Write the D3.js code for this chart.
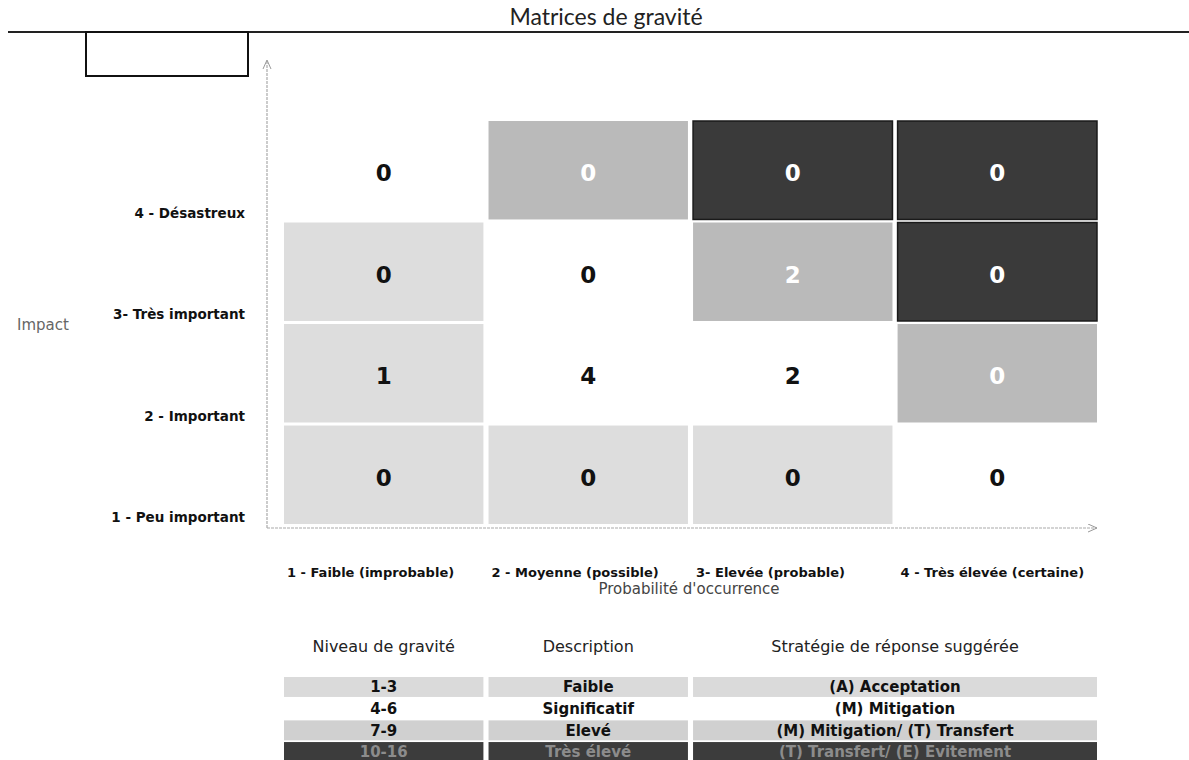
<!DOCTYPE html>
<html>
<head>
<meta charset="utf-8">
<script src="https://cdn.jsdelivr.net/npm/d3@7"></script>
<style>
  body { margin: 0; background: #fff; }
  svg { display: block; }
</style>
</head>
<body>
<div id="chart"></div>
<script>
// chart data
var title = "Matrices de gravité";
var probLabels = ["1 - Faible (improbable)", "2 - Moyenne (possible)", "3- Elevée (probable)", "4 - Très élevée (certaine)"];
var impactLabels = ["1 - Peu important", "2 - Important", "3- Très important", "4 - Désastreux"];
var xTitle = "Probabilité d'occurrence";
var yTitle = "Impact";
// counts[impact-1][probabilite-1]
var counts = [
  [0, 0, 0, 0],
  [1, 4, 2, 0],
  [0, 0, 2, 0],
  [0, 0, 0, 0]
];
// legend table
var tableHeaders = ["Niveau de gravité", "Description", "Stratégie de réponse suggérée"];
var levelRanges = ["1-3", "4-6", "7-9", "10-16"];
var levelNames = ["Faible", "Significatif", "Elevé", "Très élevé"];
var levelStrategies = ["(A)  Acceptation", "(M) Mitigation", "(M) Mitigation/ (T) Transfert", "(T) Transfert/ (E) Evitement"];
var levelBreaks = [4, 7, 10];

var width = 1189, height = 760;

var svg = d3.select("#chart").append("svg")
  .attr("width", width)
  .attr("height", height);

// scales
var x = d3.scaleBand().domain([1, 2, 3, 4]).range([284, 1097]).paddingInner(0.025);
var y = d3.scaleBand().domain([4, 3, 2, 1]).range([121, 524]).paddingInner(0.03);
var color = d3.scaleThreshold().domain(levelBreaks).range(["#dddddd", "#ffffff", "#bababa", "#3a3a3a"]);

// title + rule + empty box
svg.append("text")
  .attr("x", 606).attr("y", 25)
  .attr("text-anchor", "middle")
  .style("font-family", "Lato, sans-serif")
  .style("font-size", "23px")
  .style("fill", "#222")
  .text(title);

svg.append("line")
  .attr("x1", 8).attr("x2", width)
  .attr("y1", 32).attr("y2", 32)
  .attr("stroke", "#222").attr("stroke-width", 2);

svg.append("rect")
  .attr("x", 86).attr("y", 32)
  .attr("width", 162).attr("height", 44)
  .attr("fill", "none").attr("stroke", "#111").attr("stroke-width", 2);

// arrows for the axes
svg.append("defs").append("marker")
  .attr("id", "arrow")
  .attr("viewBox", "0 0 10 10")
  .attr("refX", 9).attr("refY", 5)
  .attr("markerWidth", 10).attr("markerHeight", 10)
  .attr("markerUnits", "userSpaceOnUse")
  .attr("orient", "auto")
  .append("path")
  .attr("d", "M0,1 L9,5 L0,9")
  .attr("fill", "none").attr("stroke", "#999").attr("stroke-width", 1);

var axisX0 = x.range()[0] - 17;
var axisY0 = y.range()[1] + 4;

svg.append("line")
  .attr("x1", axisX0).attr("x2", axisX0)
  .attr("y1", axisY0).attr("y2", y.range()[0] - 61)
  .attr("stroke", "#aaa").attr("stroke-width", 1.2)
  .attr("stroke-dasharray", "3,1")
  .attr("marker-end", "url(#arrow)");

svg.append("line")
  .attr("x1", axisX0).attr("x2", x.range()[1])
  .attr("y1", axisY0).attr("y2", axisY0)
  .attr("stroke", "#aaa").attr("stroke-width", 1.2)
  .attr("stroke-dasharray", "3,1")
  .attr("marker-end", "url(#arrow)");

// cells
var cells = [];
counts.forEach(function(row, i){
  row.forEach(function(n, j){
    cells.push({imp: i + 1, prob: j + 1, n: n, score: (i + 1) * (j + 1)});
  });
});

svg.selectAll(".cell")
  .data(cells)
  .enter().append("rect")
  .attr("class", "cell")
  .attr("x", function(d){ return x(d.prob); })
  .attr("y", function(d){ return y(d.imp); })
  .attr("width", x.bandwidth())
  .attr("height", y.bandwidth())
  .attr("fill", function(d){ return color(d.score); })
  .attr("stroke", function(d){ return d.score >= levelBreaks[2] ? "#1a1a1a" : "none"; })
  .attr("stroke-width", 1.5);

svg.selectAll(".val")
  .data(cells)
  .enter().append("text")
  .attr("class", "val")
  .attr("x", function(d){ return x(d.prob) + x.bandwidth() / 2; })
  .attr("y", function(d){ return y(d.imp) + y.bandwidth() / 2 + 3; })
  .attr("text-anchor", "middle")
  .attr("dy", "0.35em")
  .style("font-family", "'DejaVu Sans', sans-serif")
  .style("font-weight", "bold")
  .style("font-size", "23px")
  .style("fill", function(d){ return d.score >= levelBreaks[1] ? "#fff" : "#111"; })
  .text(function(d){ return d.n; });

// y axis labels
var yAxis = svg.append("g")
  .attr("transform", "translate(245,0)")
  .call(d3.axisLeft(y).tickSize(0).tickPadding(0).tickFormat(function(d){ return impactLabels[d - 1]; }));
yAxis.select(".domain").remove();
yAxis.selectAll("text")
  .attr("y", y.bandwidth() / 2 - 6)
  .style("font-family", "'DejaVu Sans', sans-serif")
  .style("font-weight", "bold")
  .style("font-size", "13.5px")
  .style("fill", "#111");

svg.append("text")
  .attr("x", 17).attr("y", 330)
  .style("font-family", "'DejaVu Sans', sans-serif")
  .style("font-size", "15px")
  .style("fill", "#666")
  .text(yTitle);

// x axis labels
var xAxis = svg.append("g")
  .attr("transform", "translate(0,572)")
  .call(d3.axisBottom(x).tickSize(0).tickPadding(0).tickFormat(function(d){ return probLabels[d - 1]; }));
xAxis.select(".domain").remove();
xAxis.selectAll("text")
  .attr("x", -x.bandwidth() / 2 + 3)
  .attr("y", 0)
  .attr("dy", "0.35em")
  .attr("text-anchor", "start")
  .style("font-family", "'DejaVu Sans', sans-serif")
  .style("font-weight", "bold")
  .style("font-size", "13px")
  .style("fill", "#111");

svg.append("text")
  .attr("x", 689).attr("y", 589)
  .attr("text-anchor", "middle")
  .attr("dy", "0.35em")
  .style("font-family", "'DejaVu Sans', sans-serif")
  .style("font-size", "15px")
  .style("fill", "#444")
  .text(xTitle);

// legend table
var cols = [
  {x0: x(1), x1: x(1) + x.bandwidth()},
  {x0: x(2), x1: x(2) + x.bandwidth()},
  {x0: x(3), x1: x(4) + x.bandwidth()}
];
var rowY = d3.scaleBand().domain(d3.range(levelRanges.length)).range([677, 762]).paddingInner(0.08);
var rowFill = ["#dadada", "#ffffff", "#d0d0d0", "#3c3c3c"];
var rowText = ["#111", "#111", "#111", "#8c8c8c"];

svg.selectAll(".thead")
  .data(tableHeaders)
  .enter().append("text")
  .attr("class", "thead")
  .attr("x", function(d, i){ return (cols[i].x0 + cols[i].x1) / 2; })
  .attr("y", 646)
  .attr("dy", "0.35em")
  .attr("text-anchor", "middle")
  .style("font-family", "'DejaVu Sans', sans-serif")
  .style("font-size", "16px")
  .style("fill", "#222")
  .text(function(d){ return d; });

var rows = levelRanges.map(function(r, i){
  return {i: i, cells: [r, levelNames[i], levelStrategies[i]]};
});

var tr = svg.selectAll(".trow")
  .data(rows)
  .enter().append("g")
  .attr("class", "trow")
  .attr("transform", function(d){ return "translate(0," + rowY(d.i) + ")"; });

tr.selectAll("rect")
  .data(function(d){ return d.cells.map(function(c, k){ return {k: k, row: d.i, t: c}; }); })
  .enter().append("rect")
  .attr("x", function(d){ return cols[d.k].x0; })
  .attr("width", function(d){ return cols[d.k].x1 - cols[d.k].x0; })
  .attr("height", rowY.bandwidth())
  .attr("fill", function(d){ return rowFill[d.row]; });

tr.selectAll("text")
  .data(function(d){ return d.cells.map(function(c, k){ return {k: k, row: d.i, t: c}; }); })
  .enter().append("text")
  .attr("x", function(d){ return (cols[d.k].x0 + cols[d.k].x1) / 2; })
  .attr("y", rowY.bandwidth() / 2)
  .attr("dy", "0.35em")
  .attr("text-anchor", "middle")
  .style("font-family", "'DejaVu Sans', sans-serif")
  .style("font-weight", "bold")
  .style("font-size", "15px")
  .style("fill", function(d){ return rowText[d.row]; })
  .text(function(d){ return d.t; });
</script>
</body>
</html>
